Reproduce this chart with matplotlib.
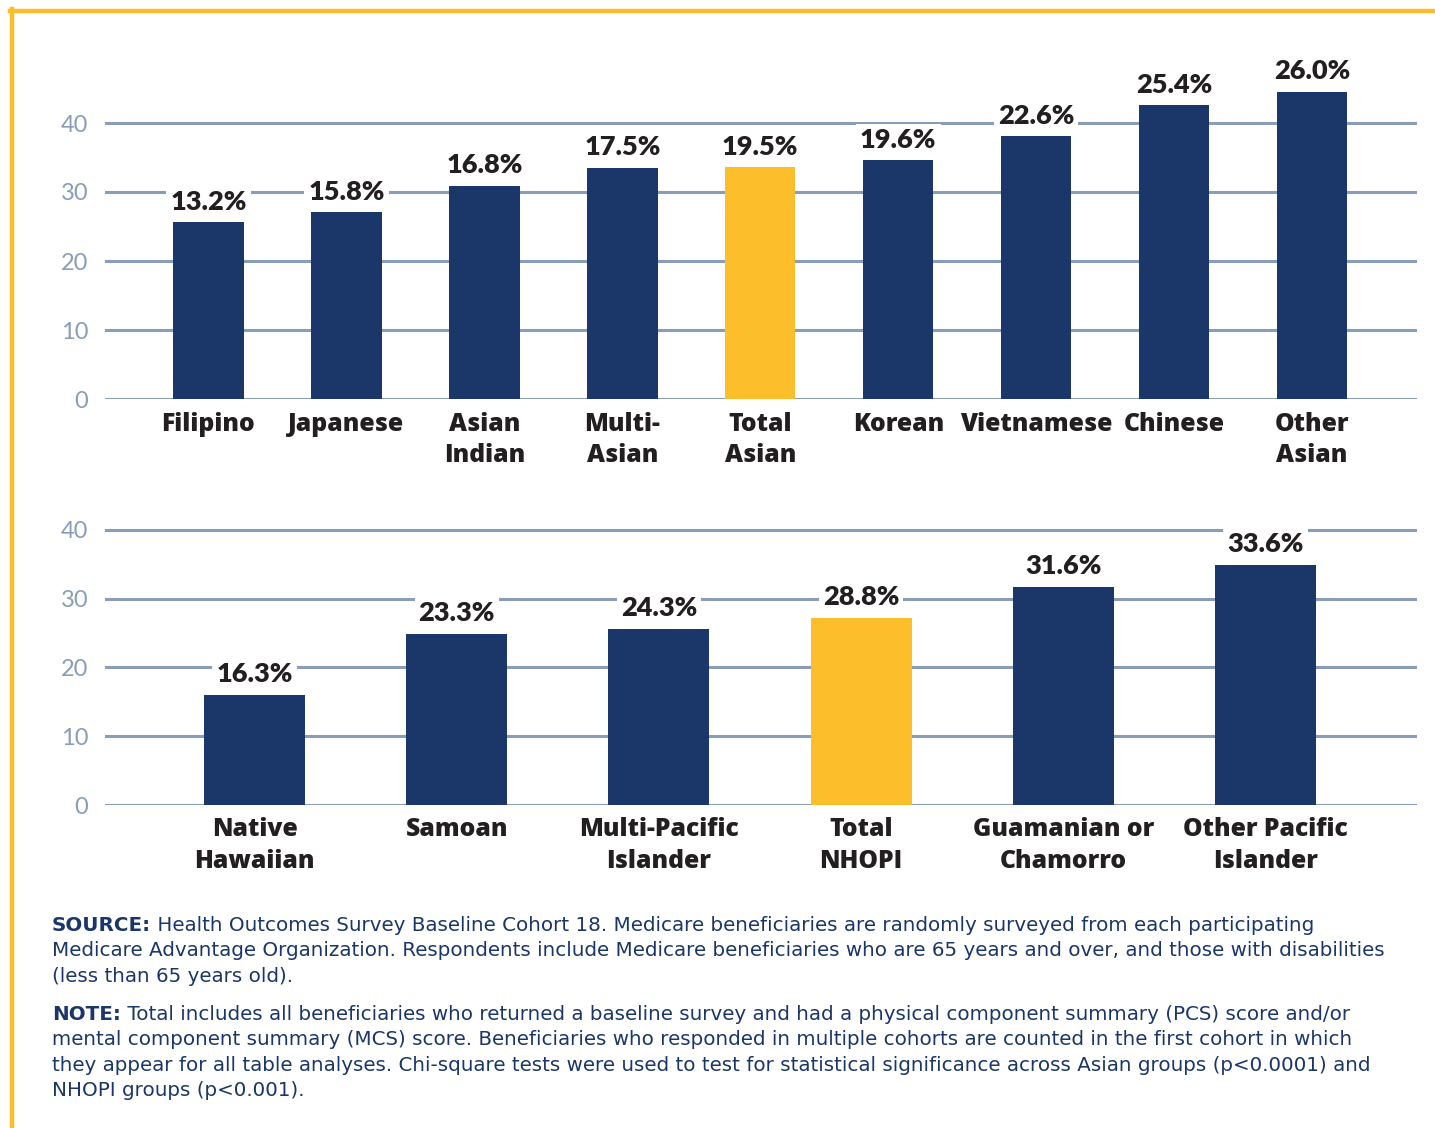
import matplotlib
matplotlib.use('Agg')
import matplotlib.pyplot as plt
from matplotlib.lines import Line2D

# =============================================================================
# Data (bar heights; labels as printed on the chart)
# =============================================================================

asian_groups = ['Filipino', 'Japanese', 'Asian\nIndian', 'Multi-\nAsian', 'Total\nAsian',
                'Korean', 'Vietnamese', 'Chinese', 'Other\nAsian']
asian_heights = [25.6, 27.1, 30.9, 33.5, 33.6, 34.6, 38.1, 42.6, 44.5]
asian_labels = ['13.2%', '15.8%', '16.8%', '17.5%', '19.5%', '19.6%', '22.6%', '25.4%', '26.0%']
asian_total_idx = 4

nhopi_groups = ['Native\nHawaiian', 'Samoan', 'Multi-Pacific\nIslander', 'Total\nNHOPI',
                'Guamanian or\nChamorro', 'Other Pacific\nIslander']
nhopi_heights = [16.0, 24.9, 25.6, 27.2, 31.7, 34.9]
nhopi_labels = ['16.3%', '23.3%', '24.3%', '28.8%', '31.6%', '33.6%']
nhopi_total_idx = 3

yticks = [0, 10, 20, 30, 40]

source_lead = 'SOURCE:'
source_lines = [
    ' Health Outcomes Survey Baseline Cohort 18. Medicare beneficiaries are randomly surveyed from each participating',
    'Medicare Advantage Organization. Respondents include Medicare beneficiaries who are 65 years and over, and those with disabilities',
    '(less than 65 years old).',
]
note_lead = 'NOTE:'
note_lines = [
    ' Total includes all beneficiaries who returned a baseline survey and had a physical component summary (PCS) score and/or',
    'mental component summary (MCS) score. Beneficiaries who responded in multiple cohorts are counted in the first cohort in which',
    'they appear for all table analyses. Chi-square tests were used to test for statistical significance across Asian groups (p<0.0001) and',
    'NHOPI groups (p<0.001).',
]

# =============================================================================
# Style
# =============================================================================

NAVY = '#1B3668'
GOLD = '#FDBE2B'
GRID = '#8A9DB8'
INK = '#231F20'
LABEL_FONT = 'Lato'
CAT_FONT = 'Open Sans'
BODY_FONT = 'DejaVu Sans'

W, H = 1435, 1128
plt.rcParams['font.family'] = [LABEL_FONT, 'DejaVu Sans']

fig = plt.figure(figsize=(W / 100, H / 100), dpi=100)


def px_axes(x0, x1, y_zero, y_top):
    """Axes from pixel coordinates (origin top-left)."""
    return fig.add_axes([x0 / W, 1 - y_zero / H, (x1 - x0) / W, (y_zero - y_top) / H])


def draw_panel(ax, groups, heights, labels, total_idx, ymax, width):
    n = len(groups)
    colors = [GOLD if i == total_idx else NAVY for i in range(n)]
    ax.bar(range(n), heights, width=width, color=colors, zorder=3)
    for i, (h, lab) in enumerate(zip(heights, labels)):
        ax.annotate(lab, xy=(i, h), xytext=(0, 9), textcoords='offset points',
                    ha='center', va='baseline', fontsize=19.5, fontweight='heavy',
                    color=INK, zorder=4,
                    bbox=dict(boxstyle='square,pad=0.15', fc='white', ec='none'))
    ax.set_ylim(0, ymax)
    ax.set_yticks(yticks)
    ax.set_xticks(range(n))
    ax.set_xticklabels(groups, fontsize=17.8, fontweight='heavy', color=INK,
                       linespacing=1.34, family=[CAT_FONT, 'DejaVu Sans'])
    ax.tick_params(axis='x', length=0, pad=9)
    ax.tick_params(axis='y', length=0, pad=12, labelsize=17, labelcolor=GRID)
    for s in ax.spines.values():
        s.set_visible(False)
    ax.set_axisbelow(True)
    ax.grid(axis='y', color=GRID, linewidth=2.2)
    ax.grid(axis='x', visible=False)


ax1 = px_axes(105, 1417, 399, 54)
draw_panel(ax1, asian_groups, asian_heights, asian_labels, asian_total_idx, 50, 0.51)
ax1.set_xlim(-0.75, 8.76)

ax2 = px_axes(105, 1417, 805, 516)
draw_panel(ax2, nhopi_groups, nhopi_heights, nhopi_labels, nhopi_total_idx, 42, 0.5)
ax2.set_xlim(-0.74, 5.75)

# gold frame (top and left edges)
fig.add_artist(Line2D([10 / W, 1], [1 - 11 / H, 1 - 11 / H], color=GOLD, linewidth=3.2,
                      transform=fig.transFigure))
fig.add_artist(Line2D([12 / W, 12 / W], [0, 1 - 9 / H], color=GOLD, linewidth=3.2,
                      transform=fig.transFigure))

# notes
body = dict(fontsize=14.3, color=NAVY, family=[BODY_FONT])


def note_block(lead, lines, y_first, step):
    t = fig.text(52 / W, 1 - y_first / H, lead, fontweight='bold', va='baseline', **body)
    plt.annotate(lines[0], xy=(1, 0), xycoords=t, xytext=(0, 0), textcoords='offset points',
                 va='bottom', ha='left', annotation_clip=False, **body)
    for k, line in enumerate(lines[1:], start=1):
        fig.text(52 / W, 1 - (y_first + k * step) / H, line, va='baseline', **body)


note_block(source_lead, source_lines, 931, 25.5)
note_block(note_lead, note_lines, 1020, 25.3)

fig.savefig('out.png', dpi=100, facecolor='white')
